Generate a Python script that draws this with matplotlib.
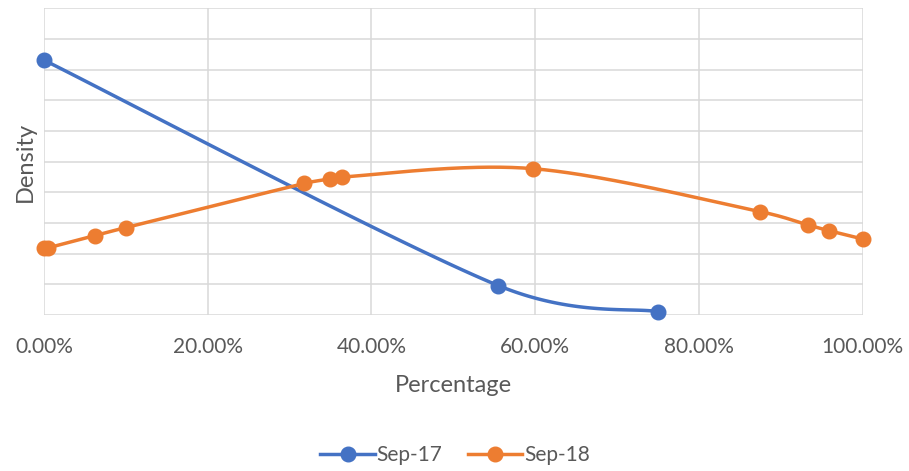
import numpy as np
import matplotlib
matplotlib.use('Agg')
import matplotlib.pyplot as plt

plt.rcParams['font.family'] = ['Lato', 'DejaVu Sans']

# values (y axis has no labels, arbitrary density units)
sep17_x = [0.0, 0.555, 0.75]
sep17_y = [8.31, 0.96, 0.11]
sep18_x = [0.0, 0.005, 0.062, 0.10, 0.318, 0.349, 0.364, 0.598, 0.875, 0.934, 0.959, 1.0]
sep18_y = [2.17, 2.19, 2.59, 2.85, 4.29, 4.43, 4.50, 4.77, 3.37, 2.93, 2.75, 2.48]
x_ticks = [0.0, 0.2, 0.4, 0.6, 0.8, 1.0]
x_labels = ['0.00%', '20.00%', '40.00%', '60.00%', '80.00%', '100.00%']

BLUE = '#4472C4'
ORANGE = '#ED7D31'
GRID = '#D9D9D9'
TEXT = '#595959'


def smooth(ax, xs, ys, n=60):
    # excel-like smoothed line (bezier, 1/6 tension, shortened on uneven segments)
    pd = np.column_stack([xs, ys]).astype(float)
    pp = ax.transData.transform(pd)  # pixel coords for the distance tests
    m = len(pd)
    out = []
    for i in range(m - 1):
        i0 = max(i - 1, 0)
        i3 = min(i + 2, m - 1)
        d02 = np.hypot(*(pp[i + 1] - pp[i0]))
        d12 = np.hypot(*(pp[i + 1] - pp[i]))
        d13 = np.hypot(*(pp[i3] - pp[i]))
        f = 1 / 6 if d02 / 6 < d12 / 2 else d12 / (2 * d02)
        g = 1 / 6 if d13 / 6 < d12 / 2 else d12 / (2 * d13)
        p1, p2 = pd[i], pd[i + 1]
        c1 = p1 + f * (p2 - pd[i0])
        c2 = p2 - g * (pd[i3] - p1)
        t = np.linspace(0, 1, n)[:, None]
        seg = (1 - t) ** 3 * p1 + 3 * (1 - t) ** 2 * t * c1 + 3 * (1 - t) * t ** 2 * c2 + t ** 3 * p2
        out.append(seg if i == 0 else seg[1:])
    out = np.vstack(out)
    return out[:, 0], out[:, 1]


fig = plt.figure(figsize=(9.09, 4.71), dpi=100)
ax = fig.add_axes([44 / 909, 1 - 315 / 471, (862.5 - 44) / 909, (315 - 8.3) / 471])
ax.set_xlim(0, 1)
ax.set_ylim(0, 10)

for xs, ys, c, lab in [(sep17_x, sep17_y, BLUE, 'Sep-17'), (sep18_x, sep18_y, ORANGE, 'Sep-18')]:
    sx, sy = smooth(ax, xs, ys)
    ax.plot(sx, sy, color=c, lw=2.5, solid_capstyle='round', zorder=3, clip_on=False)
    ax.plot(xs, ys, 'o', color=c, ms=10.5, zorder=4, clip_on=False)
    ax.plot([], [], color=c, lw=2.5, marker='o', ms=10.5, label=lab)

ax.set_xticks(x_ticks)
ax.set_xticklabels(x_labels)
ax.set_yticks(np.arange(0, 11, 1))
ax.set_yticklabels([])
ax.grid(True, color=GRID, lw=1.1)
ax.set_axisbelow(True)
for s in ax.spines.values():
    s.set_visible(False)
ax.tick_params(length=0, labelsize=15, labelcolor=TEXT, pad=16)
ax.tick_params(axis='y', pad=0)

ax.set_xlabel('Percentage', fontsize=17, color=TEXT)
ax.xaxis.set_label_coords(453 / 909, 1 - 385 / 471, transform=fig.transFigure)
ax.xaxis.label.set_va('center')
ax.set_ylabel('Density', fontsize=17, color=TEXT)
ax.yaxis.set_label_coords(25 / 909, 1 - 162 / 471, transform=fig.transFigure)
ax.yaxis.label.set_va('center')

fig.legend(loc='center', bbox_to_anchor=(455 / 909, 1 - 455 / 471), ncol=2, frameon=False,
           fontsize=15, labelcolor=TEXT, handlelength=2.6, handletextpad=0.1, columnspacing=1.2)

fig.savefig('out.png', dpi=100)
